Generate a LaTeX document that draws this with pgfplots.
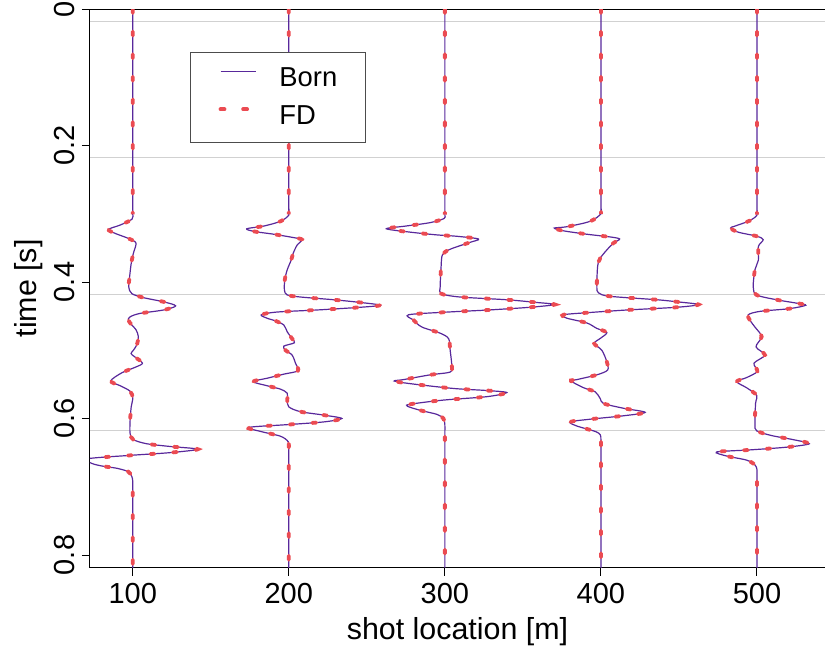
\documentclass[border=0pt]{standalone}
\usepackage{fontspec}
\setmainfont{Liberation Sans}
\usepackage{pgfplots}
\pgfplotsset{compat=1.18}
\usepackage{pgfplotstable}

\definecolor{bornc}{RGB}{88,40,155}
\definecolor{fdc}{RGB}{235,75,82}

% trace at shot 100 m: x = shot + amplitude, t in s
\pgfplotstableread{
x t
100 0
100 0.28
100 0.292
100 0.300
99.5 0.308
92 0.3165
84.4 0.323
89 0.329
96 0.335
101.5 0.341
102 0.346
100.4 0.358
99 0.373
98 0.392
97.4 0.407
99.4 0.417
107 0.423
119.7 0.429
127.5 0.435
119.7 0.441
104.7 0.446
98.3 0.451
97.2 0.456
99.4 0.463
102.1 0.470
103.6 0.480
102.6 0.492
100.4 0.500
98.9 0.505
101.5 0.510
106.2 0.519
101.5 0.525
93 0.533
85.9 0.545
92 0.552
98.3 0.560
100 0.570
99 0.583
98.3 0.603
98.3 0.622
100.4 0.631
109 0.637
124 0.641
141.7 0.645
124 0.650
98.3 0.654
71 0.659
74 0.666
81.2 0.670
90 0.673
97.2 0.678
99.4 0.685
100 0.692
100 0.704
100 0.72
100 0.819
}\traceA

\pgfplotstableread{
x t
200 0
200 0.28
200 0.292
200 0.302
194.7 0.311
184 0.318
173 0.322
178 0.326
190.4 0.330
203.2 0.335
208.5 0.338
205.3 0.346
202.8 0.358
201.5 0.368
199 0.382
197.4 0.397
197.2 0.412
199 0.419
207.5 0.422
228.8 0.426
246 0.430
258.5 0.434
246 0.437
218 0.441
192.5 0.444
182.3 0.448
186 0.453
191.5 0.457
196.8 0.463
199 0.473
202.1 0.483
203.6 0.489
196.8 0.494
197.9 0.500
202.1 0.507
204.3 0.519
205.8 0.530
196.8 0.535
186.1 0.541
177.1 0.546
186.1 0.552
194.7 0.557
199 0.563
199 0.573
200 0.583
207.5 0.590
222.4 0.595
234 0.600
222.4 0.605
199 0.609
174.4 0.613
182 0.619
194.7 0.626
199.6 0.634
200 0.644
200 0.656
200 0.67
200 0.819
}\traceB

\pgfplotstableread{
x t
300 0
300 0.28
300 0.293
300 0.302
299.5 0.307
290.6 0.313
275 0.318
262.5 0.322
278 0.327
295 0.331
307.7 0.333
321.6 0.337
316 0.342
303.4 0.352
298.5 0.360
297.6 0.377
297 0.407
297.6 0.417
309.8 0.422
339.7 0.426
359 0.430
370.5 0.433
354.7 0.437
328 0.441
302 0.444
276.7 0.448
280 0.456
285.3 0.466
297 0.475
302.4 0.483
303.4 0.500
304.5 0.524
303.4 0.532
290.6 0.536
273.5 0.543
267.5 0.545
278 0.549
305.6 0.556
327 0.559
339.7 0.562
327 0.568
299.1 0.573
278 0.579
276 0.582
284.2 0.588
295 0.594
299.1 0.600
300 0.609
300 0.62
300 0.635
300 0.819
}\traceC

\pgfplotstableread{
x t
400 0
400 0.28
400 0.291
400 0.300
393.2 0.311
378.2 0.319
370.1 0.321
376 0.325
391 0.330
406 0.334
412 0.337
408 0.343
403.8 0.353
399.6 0.365
397.9 0.377
397.4 0.407
398.5 0.416
406 0.421
436 0.426
448.7 0.429
462.6 0.433
448.7 0.437
416.7 0.441
391 0.445
376 0.448
378.2 0.453
391 0.460
397.4 0.468
403.8 0.474
400 0.482
395.7 0.490
400.6 0.500
403.8 0.517
404.3 0.529
397.4 0.536
384.6 0.543
380.8 0.545
389 0.555
396.4 0.561
399.6 0.571
401.7 0.578
414.5 0.585
428.4 0.591
414.5 0.596
393.2 0.601
380.3 0.605
384.6 0.611
396.4 0.619
399.6 0.624
400 0.631
400 0.643
400 0.657
400 0.819
}\traceD

\pgfplotstableread{
x t
500 0
500 0.28
500 0.293
500 0.302
495.5 0.310
486 0.318
483.1 0.321
488 0.327
500 0.333
504 0.338
500.9 0.348
500.9 0.368
498.7 0.382
497.6 0.407
499.8 0.419
512.6 0.426
525.4 0.431
531.3 0.434
521 0.439
502 0.443
494.4 0.448
495.5 0.456
498.7 0.466
503 0.480
499.4 0.495
505.1 0.507
498.1 0.519
500.2 0.531
493.4 0.540
487 0.546
493.4 0.555
499.8 0.566
499.1 0.578
498.7 0.608
499.8 0.618
509.4 0.625
523.3 0.631
533.5 0.637
519 0.642
495.5 0.646
474.1 0.649
480.6 0.655
493.4 0.661
498.7 0.668
500 0.675
500 0.687
500 0.70
500 0.819
}\traceE

\pgfplotsset{
  bornline/.style={bornc, line width=0.6pt, smooth, tension=0.5},
  fdline/.style={fdc, line width=1.9pt, line cap=round, dash pattern=on 2pt off 9.3pt, smooth, tension=0.5},
}

\begin{document}
\begin{tikzpicture}
\begin{axis}[
  scale only axis,
  width=367.5pt, height=279.35pt,
  xmin=72.6, xmax=543.6, ymin=0, ymax=0.8186,
  y dir=reverse,
  axis y line*=left,
  y axis line style={-},
  axis line style={line width=0.5pt},
  xtick={100,200,300,400,500},
  xticklabels={100,200,300,400,500},
  ytick={0,0.2,0.4,0.6,0.8},
  yticklabels={0,0.2,0.4,0.6,0.8},
  xtick pos=bottom, ytick pos=left,
  tick align=outside,
  major tick length=4pt,
  tick style={black, line width=0.5pt},
  yticklabel style={rotate=90, anchor=south},
  tick label style={font=\fontsize{14.5}{16}\selectfont},
  label style={font=\fontsize{15.2}{17}\selectfont},
  ylabel shift=-9pt,
  xlabel={shot location [m]},
  ylabel={time [s]},
  extra y ticks={0.0176,0.2176,0.4176,0.6176},
  extra y tick labels={},
  extra y tick style={grid=major, tick style={draw=none}},
  grid style={black!18, line width=0.5pt},
  legend style={at={(axis cs:136.7,0.063)}, anchor=north west,
    draw=black!70, line width=0.6pt, fill=white,
    font=\fontsize{13.7}{16}\selectfont,
    inner xsep=14pt, inner ysep=7.5pt, row sep=8pt, column sep=11pt,
    nodes={inner sep=0pt}},
  legend cell align=left,
  legend image code/.code={\draw[#1] (0pt,3.5pt) -- (17.5pt,3.5pt);},
]
\addplot[bornline] table[x=x, y=t] {\traceA};
\addlegendentry{Born}
\addplot[fdline] table[x=x, y=t] {\traceA};
\addlegendentry{FD}
\addplot[bornline, forget plot] table[x=x, y=t] {\traceB};
\addplot[fdline, forget plot] table[x=x, y=t] {\traceB};
\addplot[bornline, forget plot] table[x=x, y=t] {\traceC};
\addplot[fdline, forget plot] table[x=x, y=t] {\traceC};
\addplot[bornline, forget plot] table[x=x, y=t] {\traceD};
\addplot[fdline, forget plot] table[x=x, y=t] {\traceD};
\addplot[bornline, forget plot] table[x=x, y=t] {\traceE};
\addplot[fdline, forget plot] table[x=x, y=t] {\traceE};
\coordinate (bl) at (axis cs:72.6,0.8186);
\coordinate (tr) at (axis cs:543.6,0);
\end{axis}
\pgfresetboundingbox
\path ([shift={(-45pt,-39.65pt)}]bl) rectangle ([shift={(0pt,4.5pt)}]tr);
\end{tikzpicture}
\end{document}
